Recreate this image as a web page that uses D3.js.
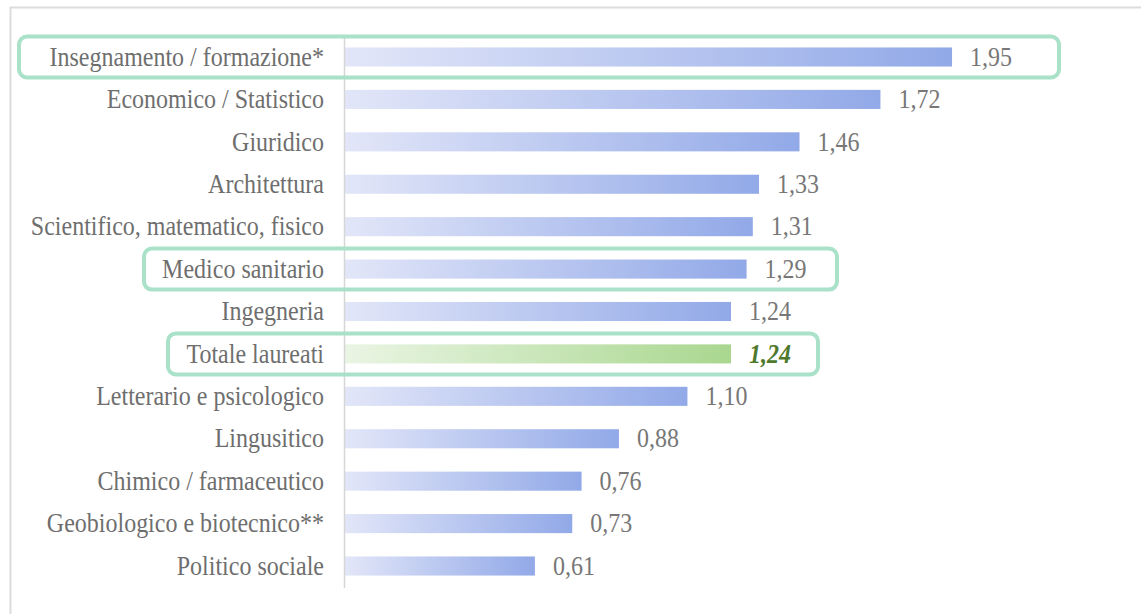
<!DOCTYPE html>
<html>
<head>
<meta charset="utf-8">
<script src="https://cdn.jsdelivr.net/npm/d3@7"></script>
<style>
  body { margin: 0; background: #fff; }
  svg { display: block; }
</style>
</head>
<body>
<svg id="chart" width="1141" height="614"></svg>
<script>
// Data
const categories = [
  "Insegnamento / formazione*",
  "Economico / Statistico",
  "Giuridico",
  "Architettura",
  "Scientifico, matematico, fisico",
  "Medico sanitario",
  "Ingegneria",
  "Totale laureati",
  "Letterario e psicologico",
  "Lingusitico",
  "Chimico / farmaceutico",
  "Geobiologico e biotecnico**",
  "Politico sociale"
]
const values = [1.95, 1.72, 1.46, 1.33, 1.31, 1.29, 1.24, 1.24, 1.10, 0.88, 0.76, 0.73, 0.61]
const totalLabel = "Totale laureati"
const highlighted = ["Insegnamento / formazione*", "Medico sanitario", "Totale laureati"]

draw()

function draw () {
  let svg = d3.select("#chart")

  const rows = categories.map((c, i) => ({ name: c, value: values[i] }))

  // frame (only top and left edges visible)
  svg.append("path")
      .attr("d", "M10.5,614 L10.5,7.5 L1141,7.5")
      .attr("fill", "none")
      .attr("stroke", "#dcdcdc")
      .attr("stroke-width", 2)

  const x = d3.scaleLinear()
      .domain([0, 1])
      .range([345, 345 + 311.3])

  const y = d3.scaleBand()
      .domain(categories)
      .range([36, 587])
      .paddingInner(0.55)
      .paddingOuter(0.27)

  const defs = svg.append("defs")

  const blue = defs.append("linearGradient")
      .attr("id", "gradBlue")
  blue.append("stop").attr("offset", "0%").attr("stop-color", "#e2e6f8")
  blue.append("stop").attr("offset", "100%").attr("stop-color", "#92a9e8")

  const green = defs.append("linearGradient")
      .attr("id", "gradGreen")
  green.append("stop").attr("offset", "0%").attr("stop-color", "#eaf5e4")
  green.append("stop").attr("offset", "100%").attr("stop-color", "#a9d78f")

  // bars
  svg.append("g")
    .selectAll("rect")
    .data(rows)
    .enter().append("rect")
      .attr("x", x(0))
      .attr("y", d => y(d.name))
      .attr("width", d => x(d.value) - x(0))
      .attr("height", y.bandwidth())
      .attr("fill", d => d.name == totalLabel ? "url(#gradGreen)" : "url(#gradBlue)")

  // vertical axis line
  svg.append("line")
      .attr("x1", 344.5).attr("x2", 344.5)
      .attr("y1", 37).attr("y2", 588)
      .attr("stroke", "#d6d6d6")
      .attr("stroke-width", 1.5)

  const font = "'Liberation Serif', 'Times New Roman', serif"
  const stretch = 1.1   // the reference text is slightly tall

  // category labels
  svg.append("g")
    .selectAll("text")
    .data(rows)
    .enter().append("text")
      .attr("transform", d => `translate(324,${y(d.name) + y.bandwidth() / 2}) scale(1,${stretch})`)
      .attr("dy", "0.33em")
      .attr("text-anchor", "end")
      .attr("font-family", font)
      .attr("font-size", 24)
      .attr("fill", "#6e6e6e")
      .text(d => d.name)

  // value labels
  svg.append("g")
    .selectAll("text")
    .data(rows)
    .enter().append("text")
      .attr("transform", d => `translate(${x(d.value) + 18},${y(d.name) + y.bandwidth() / 2}) scale(1,${stretch})`)
      .attr("dy", "0.33em")
      .attr("font-family", font)
      .attr("font-size", 24)
      .attr("font-weight", d => d.name == totalLabel ? "bold" : "normal")
      .attr("font-style", d => d.name == totalLabel ? "italic" : "normal")
      .attr("fill", d => d.name == totalLabel ? "#4f7a2e" : "#777777")
      .text(d => d3.format(".2f")(d.value).replace(".", ","))

  // highlight boxes
  const boxes = [
    { name: highlighted[0], x0: 19, x1: 1059 },
    { name: highlighted[1], x0: 144, x1: 837 },
    { name: highlighted[2], x0: 168, x1: 818 }
  ]
  svg.append("g")
    .selectAll("rect")
    .data(boxes)
    .enter().append("rect")
      .attr("x", d => d.x0)
      .attr("y", d => y(d.name) + y.bandwidth() / 2 - 20.5)
      .attr("width", d => d.x1 - d.x0)
      .attr("height", 41)
      .attr("rx", 8)
      .attr("fill", "none")
      .attr("stroke", "#a9e1c9")
      .attr("stroke-width", 4)
}
</script>
</body>
</html>
